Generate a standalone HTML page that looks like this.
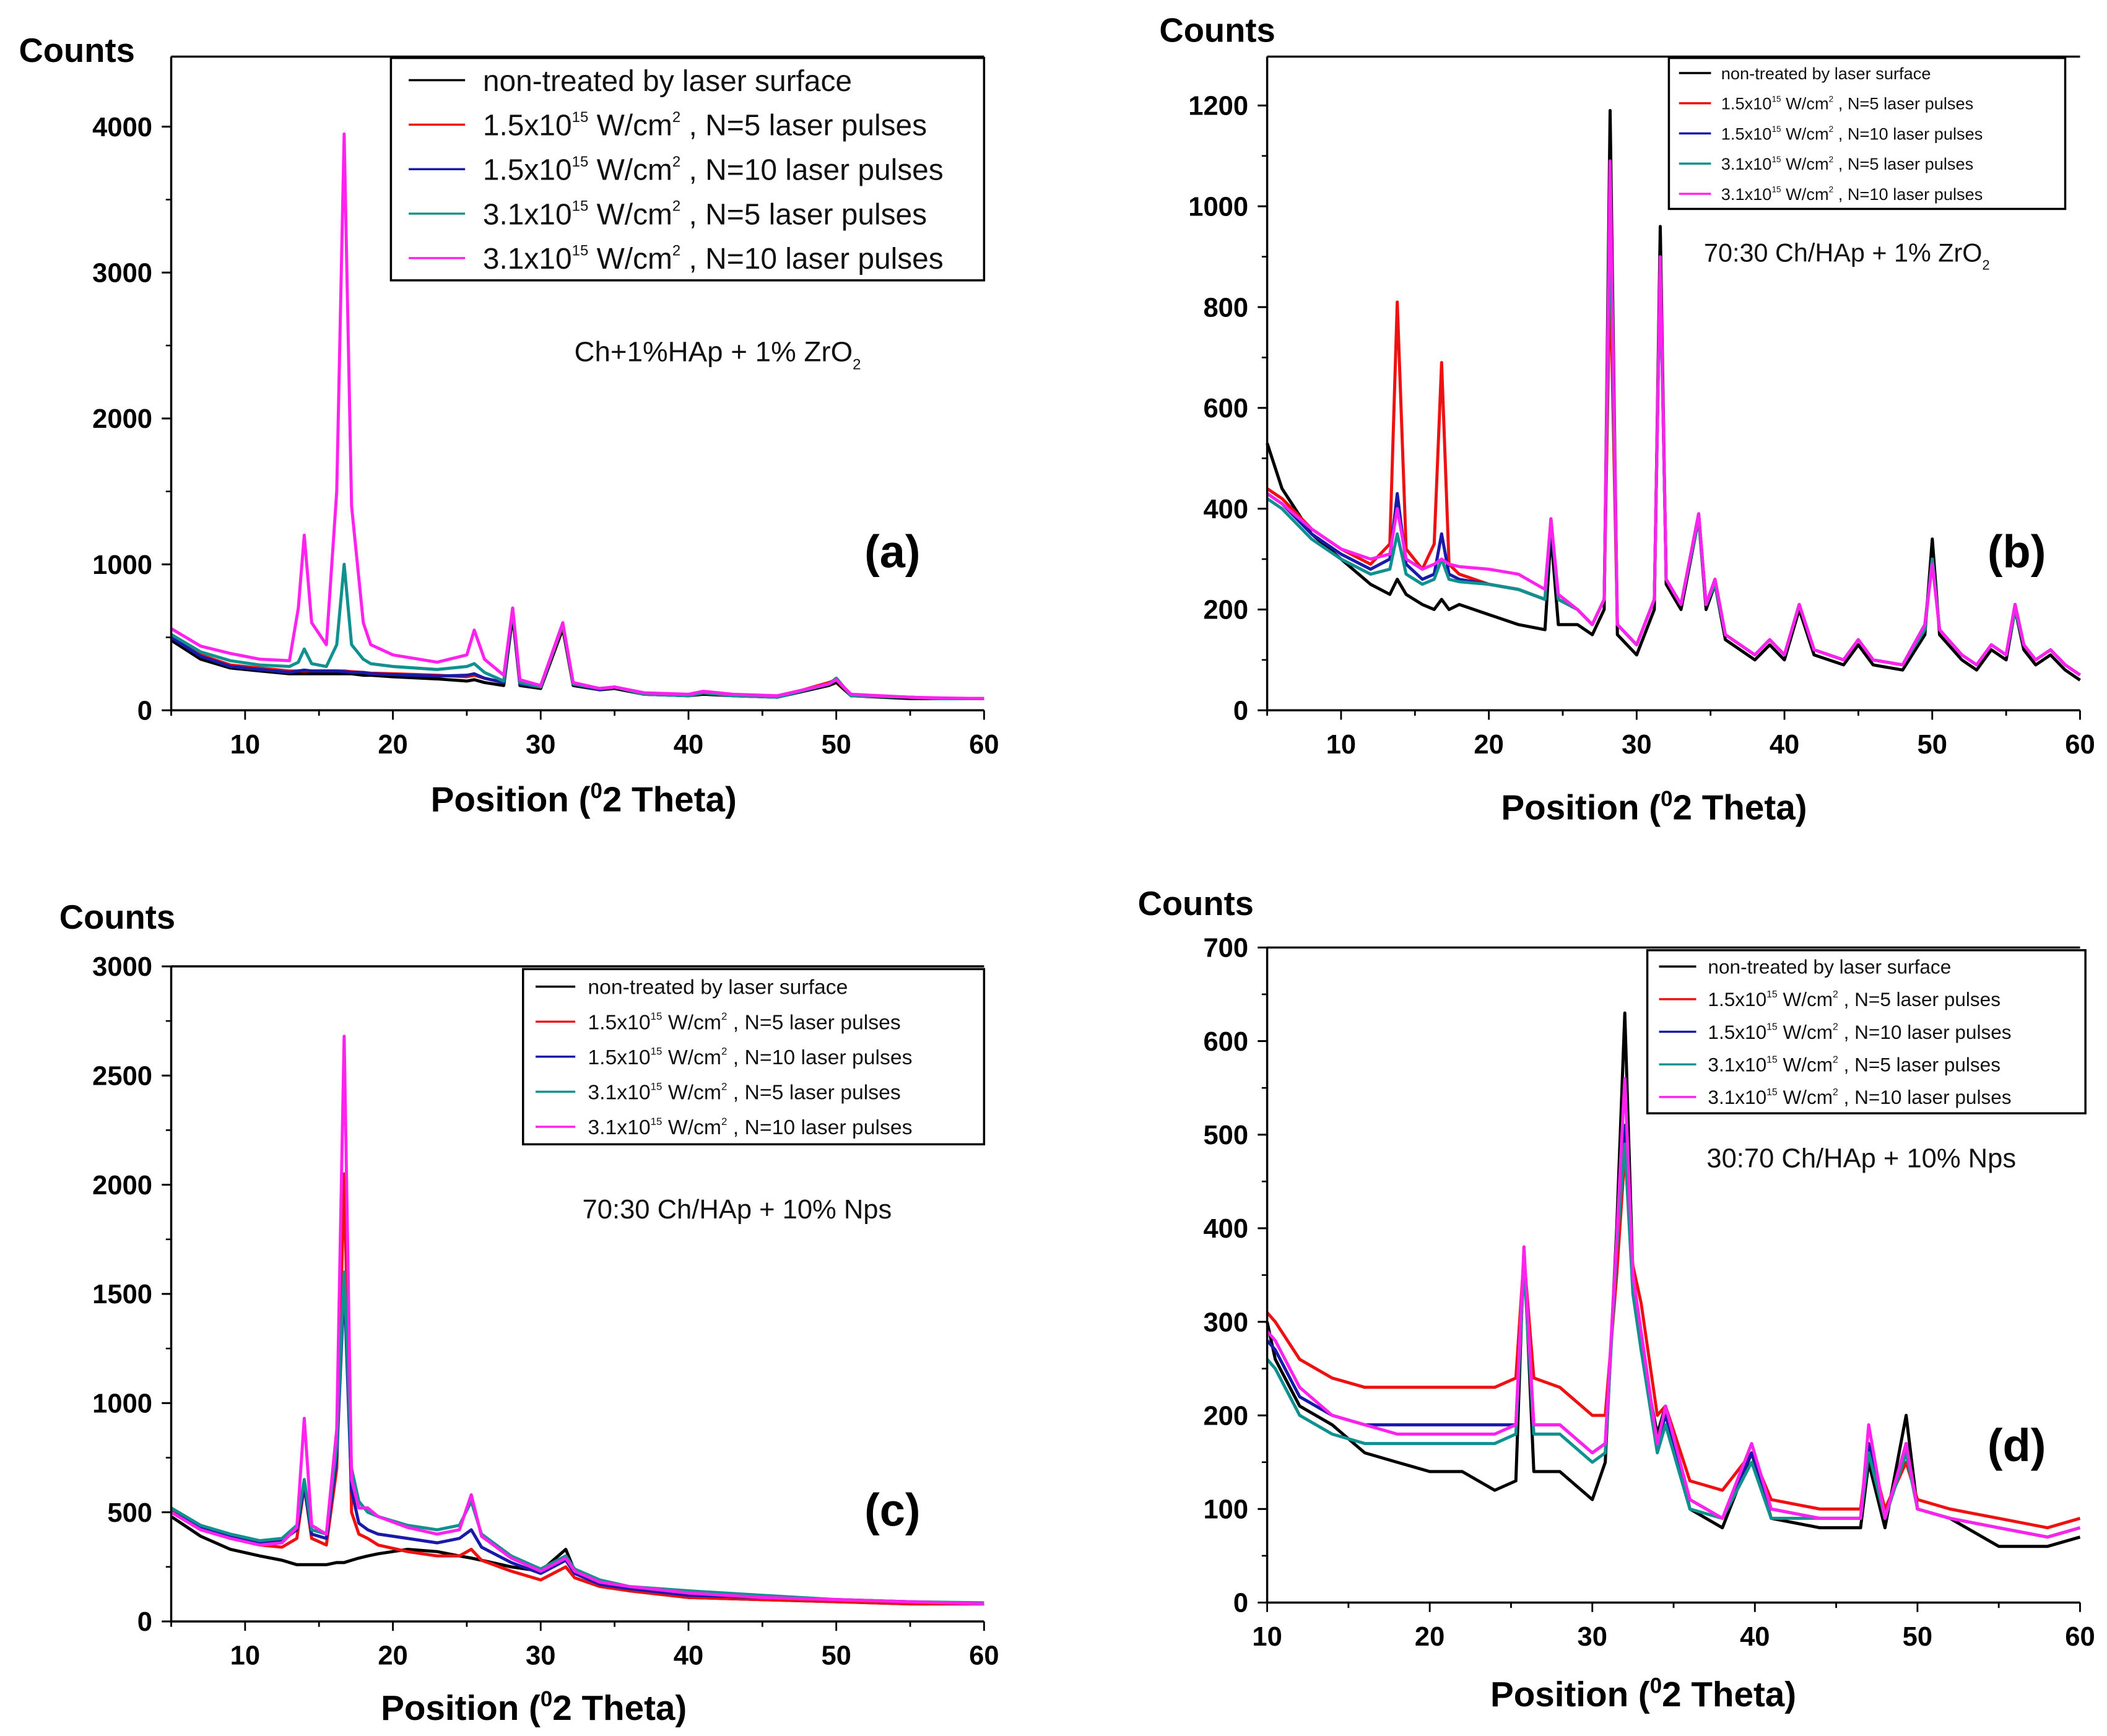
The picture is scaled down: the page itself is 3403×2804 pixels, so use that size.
<!DOCTYPE html>
<html><head><meta charset="utf-8">
<style>
html,body{margin:0;padding:0;background:#fff;}
svg{display:block;font-family:"Liberation Sans",Arial,sans-serif;}
</style></head>
<body>
<svg id="fig" width="3403" height="2804" viewBox="0 0 1563 1288" preserveAspectRatio="none" xmlns="http://www.w3.org/2000/svg">
<rect width="1563" height="1288" fill="#fff"/>
</svg>
<script>
const seriesNames = ["non-treated by laser surface","1.5x10|15| W/cm|2|, N=5 laser pulses","1.5x10|15| W/cm|2|, N=10 laser pulses","3.1x10|15| W/cm|2|, N=5 laser pulses","3.1x10|15| W/cm|2|, N=10 laser pulses"];
const seriesColors = ["#000000","#ee1111","#1a1aaa","#119090","#ff22ee"];

// Panel (a)
const xsA = [5,7,9,11,13,13.6,14,14.5,15.5,16.2,16.7,17.2,18,18.5,20,23,25,25.5,26.2,27.5,28.1,28.6,30,31.5,32.2,34,35,37,40,41,43,46,49.5,50,51,55,57,60];
const aBlack = [480,350,290,270,250,250,250,250,250,250,250,250,240,240,230,215,200,210,190,170,650,170,150,560,170,140,150,110,100,110,100,90,170,190,100,80,80,80];
const aRed = [520,380,310,290,270,270,270,270,270,270,270,265,260,255,250,240,230,240,220,190,700,180,160,580,180,140,160,110,100,120,100,90,190,210,100,90,80,80];
const aBlue = [500,370,300,280,260,270,275,270,270,270,265,260,260,250,245,235,240,250,220,190,690,180,160,590,180,140,160,110,100,120,100,90,180,220,100,90,80,80];
const aTeal = [520,400,340,310,300,330,420,320,300,450,1000,450,350,320,300,280,300,320,260,200,700,190,160,590,180,150,160,110,100,120,100,90,180,220,100,90,80,80];
const aMag = [560,440,390,350,340,700,1200,600,450,1500,3950,1400,600,450,380,330,380,550,350,240,700,210,170,600,190,150,160,120,110,130,110,100,180,210,110,90,85,80];
const aYTicks = [0,1000,2000,3000,4000];
const aXTicks = [10,20,30,40,50,60];

// Panel (b)
const xsB = [5,6,8,10,12,13.3,13.8,14.4,15.5,16.3,16.8,17.3,18,20,22,23.8,24.2,24.7,26,27,27.8,28.2,28.7,30,31.2,31.6,32,33,34.2,34.7,35.3,36,38,39,40,41,42,44,45,46,48,49.5,50,50.5,52,53,54,55,55.6,56.2,57,58,59,60];
const bBlack = [530,440,350,300,250,230,260,230,210,200,220,200,210,190,170,160,350,170,170,150,200,1190,150,110,200,960,250,200,380,200,250,140,100,130,100,200,110,90,130,90,80,150,340,150,100,80,120,100,200,120,90,110,80,60];
const bRed = [440,420,360,320,290,330,810,320,280,330,690,290,270,250,240,220,380,220,200,170,220,880,170,130,220,900,260,210,390,210,260,150,110,140,110,210,120,100,140,100,90,170,300,160,110,90,130,110,210,130,100,120,90,70];
const bBlue = [430,410,350,310,280,300,430,290,260,270,350,270,260,250,240,220,370,220,200,170,220,1060,170,130,220,890,260,210,390,210,260,150,110,140,110,210,120,100,140,100,90,170,300,160,110,90,130,110,210,130,100,120,90,70];
const bTeal = [420,400,340,300,270,280,350,270,250,260,300,260,255,250,240,220,380,220,200,170,220,1000,170,130,220,880,260,210,380,210,250,150,110,140,110,210,120,100,140,100,90,160,300,160,110,90,130,110,200,130,100,120,90,70];
const bMag = [430,410,360,320,300,310,400,300,280,290,300,290,285,280,270,240,380,230,200,170,220,1090,170,130,220,900,260,210,390,210,260,150,110,140,110,210,120,100,140,100,90,170,290,160,110,90,130,110,210,130,100,120,90,70];
const bYTicks = [0,200,400,600,800,1000,1200];
const bXTicks = [10,20,30,40,50,60];

// Panel (c)
const xsC = [5,7,9,11,12.5,13.5,14,14.5,15.5,16.2,16.7,17.2,17.7,18.3,19,21,23,24.5,25.3,26,28,30,31.7,32.3,34,36,40,45,50,55,60];
const cBlack = [480,390,330,300,280,260,260,260,260,270,270,280,290,300,310,330,320,300,290,280,250,230,330,230,170,140,110,100,90,80,80];
const cRed = [510,430,380,350,340,380,620,380,350,700,2050,500,400,380,350,320,300,300,330,280,230,190,250,200,160,140,110,100,90,80,80];
const cBlue = [500,430,390,360,370,420,620,400,380,750,1550,600,450,420,400,380,360,380,420,340,270,220,280,220,170,150,120,110,100,90,80];
const cTeal = [520,440,400,370,380,440,650,420,400,800,1600,700,550,500,480,440,420,440,550,400,300,240,300,240,190,160,140,120,100,90,85];
const cMag = [500,420,380,350,360,430,930,440,400,880,2680,650,520,520,480,430,400,420,580,390,290,230,290,230,180,160,130,110,100,90,80];
const cYTicks = [0,500,1000,1500,2000,2500,3000];
const cXTicks = [10,20,30,40,50,60];

// Panel (d)
const xsD = [10,10.5,12,14,16,18,20,22,24,25.3,25.8,26.4,28,30,30.8,31.5,32,32.5,33,34,34.5,36,38,39.8,41,44,46.5,47,48,49.3,50,52,55,58,60];
const dBlack = [300,260,210,190,160,150,140,140,120,130,380,140,140,110,150,400,630,350,270,180,210,100,80,160,90,80,80,150,80,200,100,90,60,60,70];
const dRed = [310,300,260,240,230,230,230,230,230,240,370,240,230,200,200,350,480,360,320,200,210,130,120,160,110,100,100,170,100,150,110,100,90,80,90];
const dBlue = [280,270,220,200,190,190,190,190,190,190,370,190,190,160,170,380,510,340,280,170,200,110,90,160,100,90,90,170,90,170,100,90,80,70,80];
const dTeal = [260,250,200,180,170,170,170,170,170,180,360,180,180,150,160,380,490,330,270,160,190,100,90,150,90,90,90,160,90,160,100,90,80,70,80];
const dMag = [290,280,230,200,190,180,180,180,180,190,380,190,190,160,170,390,560,350,290,170,210,110,90,170,100,90,90,190,90,170,100,90,80,70,80];
const dYTicks = [0,100,200,300,400,500,600,700];
const dXTicks = [10,20,30,40,50,60];

const NS="http://www.w3.org/2000/svg";
const svg=document.getElementById('fig');
function mk(tag,attrs,parent){const e=document.createElementNS(NS,tag);for(const k in attrs)e.setAttribute(k,attrs[k]);(parent||svg).appendChild(e);return e;}

function panel(id,L,R,T,B,x0,x1,y0,y1,xs,series,yT,xT,minorY,leg,note,tag,titleXY,xlabXY){
  const g=mk('g',{});
  
  
  const sx=v=>L+(v-x0)/(x1-x0)*(R-L);
  const sy=v=>B-(v-y0)/(y1-y0)*(B-T);
  series.forEach((vals,i)=>{
    const pts=xs.map((x,j)=>sx(x).toFixed(1)+','+sy(vals[j]).toFixed(1)).join(' ');
    const p=mk('polyline',{points:pts,fill:'none',stroke:seriesColors[i],'stroke-width':2.3,'stroke-linejoin':'round'},g);
    
    
  });
  const ax=mk('path',{d:`M${L},${T} L${R},${T} M${L},${T} L${L},${B} L${R},${B}`,fill:'none',stroke:'#000','stroke-width':1.6},g);
  
  
  yT.forEach(v=>{
    mk('line',{x1:L-7,x2:L,y1:sy(v),y2:sy(v),stroke:'#000','stroke-width':1.4},g);
    const t=mk('text',{x:L-14,y:sy(v)+7,'text-anchor':'end','font-size':20,'font-weight':'bold'},g);
    t.textContent=v;
    
    
  });
  for(let v=y0+minorY;v<y1;v+=minorY*2){mk('line',{x1:L-4,x2:L,y1:sy(v),y2:sy(v),stroke:'#000','stroke-width':1.2},g);}
  for(let v=Math.ceil(x0/5)*5;v<=x1;v+=5){
    const major=v%10===0;
    mk('line',{x1:sx(v),x2:sx(v),y1:B,y2:B+(major?7:4),stroke:'#000','stroke-width':1.3},g);
  }
  xT.forEach(v=>{
    const t=mk('text',{x:sx(v),y:B+32,'text-anchor':'middle','font-size':20,'font-weight':'bold'},g);
    t.textContent=v;
    
    
  });
  const ct=mk('text',{x:titleXY[0],y:titleXY[1],'font-size':25,'font-weight':'bold'},g);
  ct.textContent='Counts';
  
  
  const xl=mk('text',{x:xlabXY[0],y:xlabXY[1],'text-anchor':'middle','font-size':26,'font-weight':'bold'},g);
  xl.innerHTML='Position (<tspan dy="-10" font-size="16">0</tspan><tspan dy="10">2 Theta)</tspan>';
  
  
  const [lx,ly,lw,lh,fs]=leg;
  const lg=mk('g',{},g);
  
  
  mk('rect',{x:lx,y:ly,width:lw,height:lh,fill:'#fff',stroke:'#000','stroke-width':1.6},lg);
  const rowH=lh/5;
  seriesNames.forEach((nm,i)=>{
    const cy=ly+rowH*(i+0.5);
    mk('line',{x1:lx+fs*0.6,x2:lx+fs*2.5,y1:cy,y2:cy,stroke:seriesColors[i],'stroke-width':1.6},lg);
    const t=mk('text',{x:lx+fs*3.1,y:cy+fs*0.36,'font-size':fs,fill:'#111'},lg);
    const parts=nm.split('|');
    let html='';
    parts.forEach((p,k)=>{ if(k%2===1) html+=`<tspan dy="${-fs*0.45}" font-size="${fs*0.5}">${p}</tspan><tspan dy="${fs*0.45}"> </tspan>`; else html+=p;});
    t.innerHTML=html;
    
    
  });
  const nt=mk('text',{x:note[0],y:note[1],'font-size':note[2],fill:'#111'},g);
  nt.innerHTML=note[3];
  
  
  const tg=mk('text',{x:tag[0],y:tag[1],'font-size':34,'font-weight':'bold','text-anchor':'middle'},g);
  tg.textContent=tag[2];
  
  
}

panel('a',127,730,42,527,5,60,0,4480,xsA,[aBlack,aRed,aBlue,aTeal,aMag],aYTicks,aXTicks,500,
  [290,43,440,165,22],[426,268,21,'Ch+1%HAp + 1% ZrO<tspan dy="6" font-size="11">2</tspan>'],[662,421,'(a)'],[14,46],[433,602]);
panel('b',940,1543,42,527,5,60,0,1297,xsB,[bBlack,bRed,bBlue,bTeal,bMag],bYTicks,bXTicks,100,
  [1238,43,294,112,12.5],[1264,194,19,'70:30 Ch/HAp + 1% ZrO<tspan dy="6" font-size="10">2</tspan>'],[1496,421,'(b)'],[860,31],[1227,608]);
panel('c',127,730,717,1203,5,60,0,3000,xsC,[cBlack,cRed,cBlue,cTeal,cMag],cYTicks,cXTicks,250,
  [388,719,342,130,15.5],[432,904,20,'70:30 Ch/HAp + 10% Nps'],[662,1132,'(c)'],[44,689],[396,1276]);
panel('d',940,1543,703,1189,10,60,0,700,xsD,[dBlack,dRed,dBlue,dTeal,dMag],dYTicks,dXTicks,50,
  [1222,705,325,121,14.5],[1266,866,20,'30:70 Ch/HAp + 10% Nps'],[1496,1084,'(d)'],[844,679],[1219,1266]);
</script>
</body></html>
